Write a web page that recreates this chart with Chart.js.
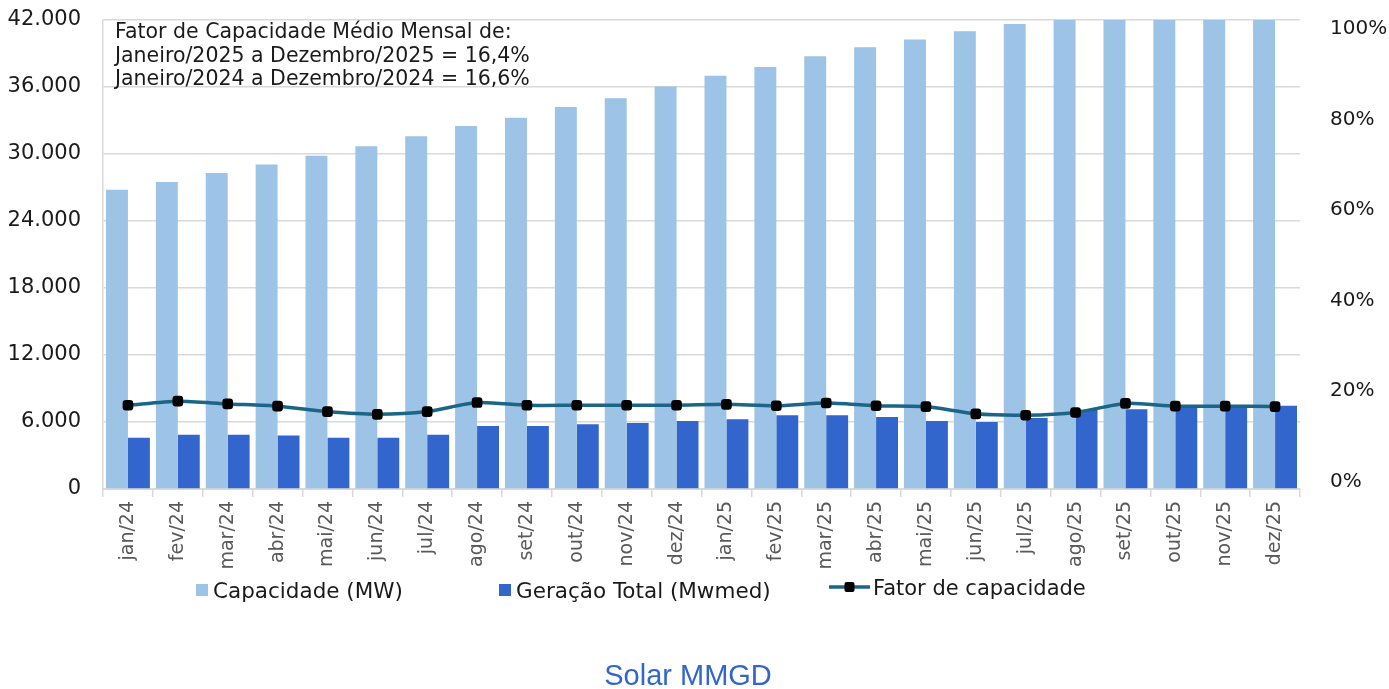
<!DOCTYPE html>
<html lang="pt-BR">
<head>
<meta charset="utf-8">
<title>Solar MMGD</title>
<script src="https://cdn.jsdelivr.net/npm/chart.js@4.4.1/dist/chart.umd.min.js"></script>
<style>
  html, body { margin: 0; padding: 0; background: #fff; }
  #wrap { position: relative; width: 1389px; height: 689px; }
</style>
</head>
<body>
<div id="wrap"><canvas id="solarChart"></canvas></div>
<script>
// --- dados ---
const meses = ['jan/24', 'fev/24', 'mar/24', 'abr/24', 'mai/24', 'jun/24', 'jul/24', 'ago/24', 'set/24', 'out/24', 'nov/24', 'dez/24',
               'jan/25', 'fev/25', 'mar/25', 'abr/25', 'mai/25', 'jun/25', 'jul/25', 'ago/25', 'set/25', 'out/25', 'nov/25', 'dez/25'];
const capacidade = [26800, 27500, 28300, 29050, 29850, 30700, 31600, 32500, 33250, 34200, 35000, 36050,
                    37000, 37800, 38750, 39550, 40250, 41000, 41650, 42600, 43300, 44000, 44700, 45400];
const geracao = [4600, 4850, 4850, 4800, 4600, 4600, 4850, 5650, 5650, 5800, 5900, 6100,
                 6250, 6600, 6600, 6450, 6100, 6000, 6350, 7100, 7150, 7450, 7450, 7450];
const fatorCapacidade = [16.9, 17.8, 17.2, 16.7, 15.5, 14.9, 15.5, 17.5, 16.9, 16.9, 16.9, 16.9,
                         17.1, 16.8, 17.4, 16.8, 16.6, 15.0, 14.7, 15.3, 17.3, 16.7, 16.7, 16.6];
const ticksMW = [0, 6000, 12000, 18000, 24000, 30000, 36000, 42000];
const ticksPct = [0, 20, 40, 60, 80, 100];
const notaLinhas = [
  'Fator de Capacidade Médio Mensal de:',
  'Janeiro/2025 a Dezembro/2025 = 16,4%',
  'Janeiro/2024 a Dezembro/2024 = 16,6%'
];
const titulo = 'Solar MMGD';

// --- cores ---
const azulClaro = '#9DC3E6';
const azulForte = '#3366CC';
const linhaCor = '#1B6587';
const gradeCor = '#D9D9D9';
const textoCor = '#1a1a1a';
const fonte = '"DejaVu Sans", sans-serif';

function milhar(v) {
  return String(v).replace(/\B(?=(\d{3})+(?!\d))/g, '.');
}

// tamanho fixo para cada eixo, sem folga extra dos rótulos
function fixa(dim, valor) {
  return (s) => {
    s[dim] = valor;
    s.paddingTop = 0; s.paddingBottom = 0; s.paddingLeft = 0; s.paddingRight = 0;
  };
}

// caixa de texto, legenda e título desenhados por cima do gráfico
const extras = {
  id: 'extras',
  afterDraw(chart) {
    const ctx = chart.ctx;
    ctx.save();
    ctx.fillStyle = textoCor;
    ctx.font = '20.5px ' + fonte;
    ctx.textBaseline = 'alphabetic';
    ctx.textAlign = 'left';
    notaLinhas.forEach((t, i) => ctx.fillText(t, 115, 38 + i * 23.5));

    // legenda
    const ds = chart.data.datasets;
    ctx.font = '21.5px ' + fonte;
    ctx.fillStyle = ds[0].backgroundColor;
    ctx.fillRect(196, 584, 12, 12);
    ctx.fillStyle = textoCor;
    ctx.fillText(ds[0].label, 213, 598);

    ctx.fillStyle = ds[1].backgroundColor;
    ctx.fillRect(499, 584, 12, 12);
    ctx.fillStyle = textoCor;
    ctx.fillText(ds[1].label, 516, 598);

    ctx.strokeStyle = ds[2].borderColor;
    ctx.lineWidth = 3.5;
    ctx.beginPath();
    ctx.moveTo(829, 587);
    ctx.lineTo(870, 587);
    ctx.stroke();
    ctx.fillStyle = '#000';
    ctx.beginPath();
    ctx.roundRect(844.5, 582, 10, 10, 2);
    ctx.fill();
    ctx.font = '21px ' + fonte;
    ctx.fillStyle = textoCor;
    ctx.fillText(ds[2].label, 873, 595);

    // título
    ctx.font = '29px "Liberation Sans", Arial, sans-serif';
    ctx.fillStyle = azulForte;
    ctx.textAlign = 'center';
    ctx.fillText(titulo, 688, 685);
    ctx.restore();
  }
};

new Chart(document.getElementById('solarChart'), {
  data: {
    labels: meses,
    datasets: [
      {
        type: 'bar', label: 'Capacidade (MW)', data: capacidade,
        backgroundColor: azulClaro, yAxisID: 'y', order: 2,
        categoryPercentage: 0.88, barPercentage: 1.0
      },
      {
        type: 'bar', label: 'Geração Total (Mwmed)', data: geracao,
        backgroundColor: azulForte, yAxisID: 'y', order: 2,
        categoryPercentage: 0.88, barPercentage: 1.0
      },
      {
        type: 'line', label: 'Fator de capacidade', data: fatorCapacidade,
        borderColor: linhaCor, borderWidth: 3.5, tension: 0.25,
        pointStyle: 'rectRounded', pointRadius: 6.2, pointHoverRadius: 6.2,
        pointBackgroundColor: '#000', pointBorderColor: '#000', pointBorderWidth: 0,
        yAxisID: 'y1', order: 0
      }
    ]
  },
  options: {
    responsive: true,
    maintainAspectRatio: false,
    animation: false,
    layout: { padding: { top: 20, left: 0, right: 0, bottom: 0 } },
    plugins: {
      legend: { display: false },
      title: { display: false },
      tooltip: { enabled: false }
    },
    scales: {
      x: {
        offset: true,
        grid: { offset: true, drawOnChartArea: false, drawTicks: true, tickLength: 8, color: gradeCor, lineWidth: 1.5 },
        border: { color: gradeCor, width: 2 },
        ticks: {
          autoSkip: false, minRotation: 90, maxRotation: 90, padding: 4,
          color: '#595959', font: { family: fonte, size: 19 }
        },
        afterFit: fixa('height', 200)
      },
      y: {
        position: 'left', min: 0, max: 42000,
        grid: { color: gradeCor, lineWidth: 1.5, drawTicks: false },
        border: { display: true, color: gradeCor, width: 1.5 },
        ticks: {
          padding: 22, color: textoCor, font: { family: fonte, size: 21 },
          callback: (v) => milhar(v)
        },
        afterBuildTicks: (s) => { s.ticks = ticksMW.map(v => ({ value: v })); },
        afterFit: fixa('width', 103)
      },
      y1: {
        position: 'right', min: -1.6, max: 102,
        grid: { display: false, drawTicks: false },
        border: { display: false },
        ticks: {
          padding: 30, color: textoCor, font: { family: fonte, size: 20 },
          callback: (v) => v + '%'
        },
        afterBuildTicks: (s) => { s.ticks = ticksPct.map(v => ({ value: v })); },
        afterFit: fixa('width', 89)
      }
    }
  },
  plugins: [extras]
});
</script>
</body>
</html>
